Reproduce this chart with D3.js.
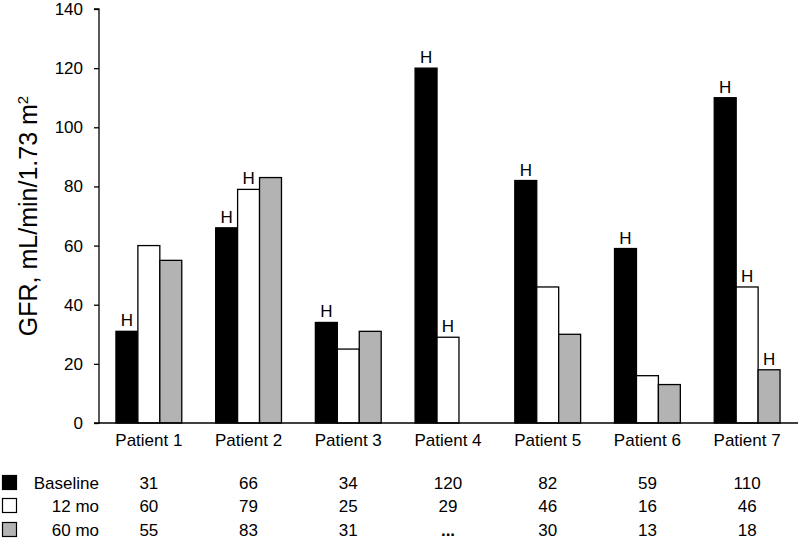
<!DOCTYPE html>
<html>
<head>
<meta charset="utf-8">
<script src="https://cdn.jsdelivr.net/npm/d3@7"></script>
<style>
	body { margin: 0; background: #fff; }
	svg text { font-family: "Liberation Sans", Arial, sans-serif; fill: #000; }
</style>
</head>
<body>
<div id="chart"></div>
<script>
// data
var patients = ["Patient 1", "Patient 2", "Patient 3", "Patient 4", "Patient 5", "Patient 6", "Patient 7"];
var seriesNames = ["Baseline", "12 mo", "60 mo"];
var baseline = [31, 66, 34, 120, 82, 59, 110];
var mo12 = [60, 79, 25, 29, 46, 16, 46];
var mo60 = [55, 83, 31, null, 30, 13, 18];
// which bars carry an "H"
var hBaseline = [1, 1, 1, 1, 1, 1, 1];
var hMo12 = [0, 1, 0, 1, 0, 0, 1];
var hMo60 = [0, 0, 0, 0, 0, 0, 1];
var yTicks = [0, 20, 40, 60, 80, 100, 120, 140];

var W = 800, H = 543,
	LEFT = 99, RIGHT = 797, TOP = 9, BOTTOM = 423,
	FS = 17,
	fills = ["#000", "#fff", "#b3b3b3"];

var values = [baseline, mo12, mo60],
	hFlags = [hBaseline, hMo12, hMo60];

var svg = d3.select("#chart").append("svg")
	.attr("width", W)
	.attr("height", H)
	.attr("font-size", FS);

var x0 = d3.scaleBand().domain(patients)
	.range([LEFT, RIGHT])
	.paddingInner(0.34)
	.paddingOuter(0.17);
var x1 = d3.scaleBand().domain(seriesNames)
	.range([0, x0.bandwidth()]);
var y = d3.scaleLinear().domain([0, 140]).range([BOTTOM, TOP]);

// y axis
var yAxis = d3.axisLeft(y).tickValues(yTicks).tickSize(5).tickPadding(11);
var gy = svg.append("g")
	.attr("transform", "translate(" + LEFT + ",0)")
	.call(yAxis)
	.attr("font-size", FS)
	.attr("font-family", null);
gy.select(".domain").attr("stroke", "#000").attr("stroke-width", 1.3)
	.attr("d", "M-5," + TOP + "H0V" + BOTTOM + "H-5");
gy.selectAll(".tick line").attr("stroke", "#000").attr("stroke-width", 1.3);
gy.selectAll(".tick text").attr("font-size", FS).attr("fill", "#000");

// bars
var bars = [];
patients.forEach(function(p, i) {
	seriesNames.forEach(function(s, j) {
		if (values[j][i] != null) bars.push({p: p, s: s, j: j, v: values[j][i], h: hFlags[j][i]});
	});
});

svg.selectAll("rect.bar")
	.data(bars)
	.enter()
	.append("rect")
	.attr("class", "bar")
	.attr("x", function(d) { return x0(d.p) + x1(d.s); })
	.attr("y", function(d) { return y(d.v); })
	.attr("width", x1.bandwidth())
	.attr("height", function(d) { return BOTTOM - y(d.v); })
	.attr("fill", function(d) { return fills[d.j]; })
	.attr("stroke", "#000")
	.attr("stroke-width", 1.3);

svg.selectAll("text.hlab")
	.data(bars.filter(function(d) { return d.h; }))
	.enter()
	.append("text")
	.attr("class", "hlab")
	.attr("x", function(d) { return x0(d.p) + x1(d.s) + x1.bandwidth() / 2; })
	.attr("y", function(d) { return y(d.v) - 5; })
	.attr("text-anchor", "middle")
	.attr("font-size", FS)
	.text("H");

// x axis line (no ticks)
svg.append("line")
	.attr("x1", LEFT).attr("x2", RIGHT + 1)
	.attr("y1", BOTTOM).attr("y2", BOTTOM)
	.attr("stroke", "#000").attr("stroke-width", 1.3);

svg.selectAll("text.cat")
	.data(patients)
	.enter()
	.append("text")
	.attr("class", "cat")
	.attr("x", function(d) { return x0(d) + x0.bandwidth() / 2; })
	.attr("y", 446)
	.attr("text-anchor", "middle")
	.text(function(d) { return d; });

// y label
svg.append("text")
	.attr("transform", "translate(37," + ((TOP + BOTTOM) / 2) + ") rotate(-90)")
	.attr("text-anchor", "middle")
	.attr("font-size", 25)
	.html("GFR, mL/min/1.73 m<tspan dy='-9' font-size='15'>2</tspan>");

// data table under the chart
var rowY = [489, 512, 536];
seriesNames.forEach(function(s, j) {
	svg.append("rect")
		.attr("x", 2.5).attr("y", rowY[j] - 13.5)
		.attr("width", 14).attr("height", 14)
		.attr("fill", fills[j])
		.attr("stroke", "#000")
		.attr("stroke-width", 1.2);
	svg.append("text")
		.attr("x", 99)
		.attr("y", rowY[j])
		.attr("text-anchor", "end")
		.text(s);
	svg.selectAll("text.val" + j)
		.data(values[j])
		.enter()
		.append("text")
		.attr("class", "val" + j)
		.attr("x", function(d, i) { return x0(patients[i]) + x0.bandwidth() / 2; })
		.attr("y", rowY[j])
		.attr("text-anchor", "middle")
		.attr("font-weight", function(d) { return d == null ? "bold" : null; })
		.text(function(d) { return d == null ? "..." : d; });
});
</script>
</body>
</html>
